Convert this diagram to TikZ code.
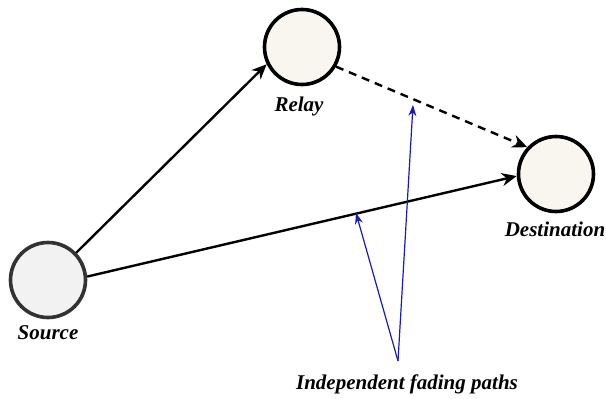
\documentclass[tikz,border=0pt]{standalone}
\usepackage{fontspec}
\setmainfont{Liberation Serif}
\usetikzlibrary{arrows.meta}
\definecolor{NodeGray}{HTML}{F2F2F2}
\definecolor{NodeCream}{HTML}{F8F6EE}
\definecolor{RimGray}{HTML}{333333}
\definecolor{FadeBlue}{HTML}{1A1AB4}

\begin{document}
\begin{tikzpicture}[>=Stealth,x=1pt,y=-1pt,
  station/.style={circle,draw,line width=3.6pt,minimum size=75pt,inner sep=0pt},
  tag/.style={font=\fontsize{21}{25}\selectfont\bfseries\itshape},
  link/.style={line width=2.4pt,-{Stealth[length=15pt,width=13pt]}},
  fade/.style={FadeBlue,line width=1.2pt,-{Stealth[length=11pt,width=8pt]}}]
  \useasboundingbox (0,0) rectangle (606,399);
  \node[station,draw=RimGray,fill=NodeGray] (source) at (48,280) {};
  \node[station,fill=NodeCream] (relay) at (302,47) {};
  \node[station,fill=NodeCream] (dest) at (556,174) {};
  \node[tag] (sourcelbl) at (48,333) {Source};
  \node[tag] (relaylbl) at (299,106) {Relay};
  \node[tag] (destlbl) at (555,229) {Destination};
  \node[tag] (fadinglbl) at (407,384) {Independent fading paths};
  \draw[link] (source.44) -- (relay.206);
  \draw[link] (source.5) -- (dest.183);
  \draw[link,dash pattern=on 8pt off 6pt] (relay.-30) -- (dest.137);
  \coordinate (fadestart) at (398,361);
  \coordinate (relayhit) at (413,105);
  \coordinate (directhit) at (356,213);
  \draw[fade] (fadestart) -- (relayhit);
  \draw[fade] (fadestart) -- (directhit);
\end{tikzpicture}
\end{document}
